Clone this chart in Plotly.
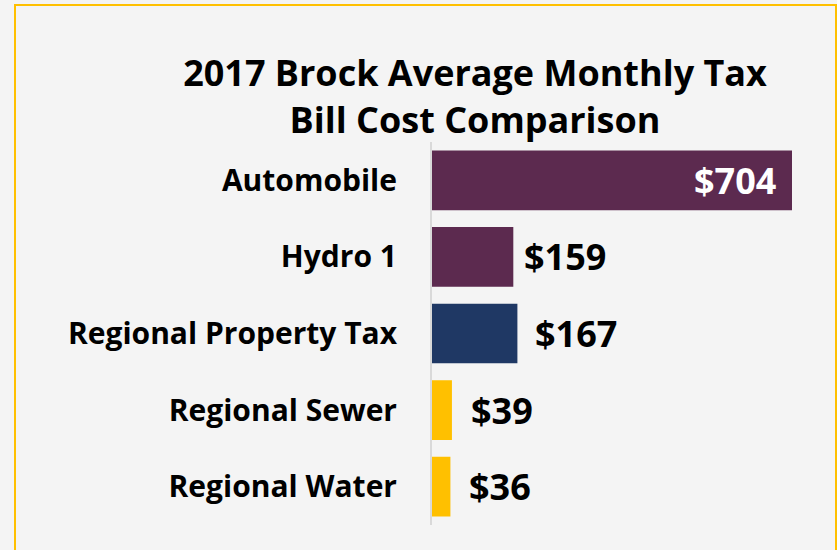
import plotly.graph_objects as go

categories = ["Automobile", "Hydro 1", "Regional Property Tax", "Regional Sewer", "Regional Water"]
costs = [704, 159, 167, 39, 36]
bar_colors = ["#5c2a4f", "#5c2a4f", "#1f3864", "#ffc000", "#ffc000"]

FONT = "Open Sans"

fig = go.Figure(
    go.Bar(
        y=categories,
        x=costs,
        orientation="h",
        marker=dict(color=bar_colors, line=dict(width=0)),
        width=0.78,
        hoverinfo="skip",
    )
)

# value labels: the big one sits inside its bar, the rest just past the bar end
label_gap = [-14, 9, 16, 17, 17]
for cat, val, gap in zip(categories, costs, label_gap):
    inside = gap < 0
    fig.add_annotation(
        x=val, y=cat, xref="x", yref="y",
        text=f"<b>${val}</b>", showarrow=False,
        xanchor="right" if inside else "left", xshift=gap,
        font=dict(family=FONT, size=36, color="white" if inside else "black"),
    )

# plot area sits at x 432..792, y 142..525 in page pixels
W, H = 837, 550
L, R, T, B = 432, 45, 142, 25
pw, ph = W - L - R, H - T - B

fig.add_shape(
    type="rect", xref="paper", yref="paper",
    x0=(15 - L) / pw, x1=(836 - L) / pw,
    y0=(H - B - 570) / ph, y1=(H - B - 5) / ph,
    line=dict(color="#ffc000", width=2), fillcolor="rgba(0,0,0,0)",
    layer="below",
)

fig.update_layout(
    width=W, height=H,
    margin=dict(l=L, r=R, t=T, b=B, autoexpand=False),
    paper_bgcolor="#f4f4f4",
    plot_bgcolor="#f4f4f4",
    showlegend=False,
    title=dict(
        text="<b>2017 Brock Average Monthly Tax<br>Bill Cost Comparison</b>",
        x=475 / W, xanchor="center",
        y=1 - 86 / H, yanchor="middle",
        font=dict(family=FONT, size=36, color="black"),
    ),
    xaxis=dict(range=[0, 704], visible=False, fixedrange=True),
    yaxis=dict(
        autorange="reversed",
        showline=True, linecolor="#d9d9d9", linewidth=2,
        showgrid=False, zeroline=False, fixedrange=True,
        ticks="", ticklabelstandoff=27,
        tickfont=dict(family=FONT, size=30, color="black", weight="bold"),
    ),
)

fig.write_html(
    "out.html",
    config={"displayModeBar": False},
    post_script="document.body.style.margin='0';document.body.style.background='#f4f4f4';",
)
